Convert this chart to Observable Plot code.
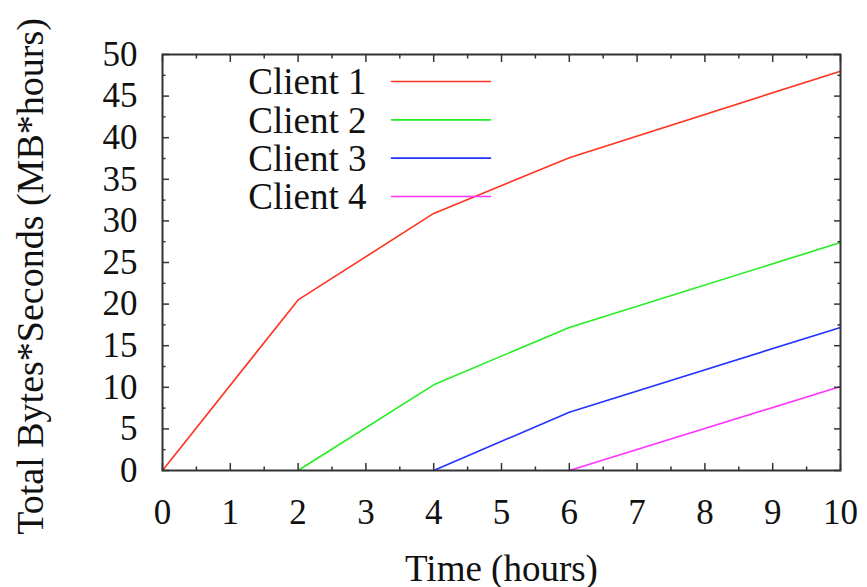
<!DOCTYPE html>
<html>
<head>
<meta charset="utf-8">
<script src="https://cdn.jsdelivr.net/npm/d3@7"></script>
<script src="https://cdn.jsdelivr.net/npm/@observablehq/plot@0.6"></script>
<style>
  html, body { margin: 0; padding: 0; background: #fff; }
  svg { display: block; }
</style>
</head>
<body>
<div id="chart"></div>
<script>
// Data
const seriesNames = ["Client 1", "Client 2", "Client 3", "Client 4"];
const seriesColors = ["#ff3322", "#22ee22", "#2233ff", "#ff33ff"];
const client1Time = [0, 2, 4, 6, 10];
const client1Value = [0, 20.5, 30.9, 37.6, 48.0];
const client2Time = [2, 4, 6, 10];
const client2Value = [0, 10.3, 17.2, 27.4];
const client3Time = [4, 6, 10];
const client3Value = [0, 7.0, 17.2];
const client4Time = [6, 10];
const client4Value = [0, 10.1];
const xTicks = [0, 1, 2, 3, 4, 5, 6, 7, 8, 9, 10];
const xMinorTicks = [0.5, 1.5, 2.5, 3.5, 4.5, 5.5, 6.5, 7.5, 8.5, 9.5];
const yTicks = [0, 5, 10, 15, 20, 25, 30, 35, 40, 45, 50];
const yMinorTicks = [2.5, 7.5, 12.5, 17.5, 22.5, 27.5, 32.5, 37.5, 42.5, 47.5];
const xLabel = "Time (hours)";
const yLabel = "Total Bytes*Seconds (MB*hours)";

const allTimes = [client1Time, client2Time, client3Time, client4Time];
const allValues = [client1Value, client2Value, client3Value, client4Value];
const rows = [];
seriesNames.forEach((name, s) => {
  allTimes[s].forEach((t, i) => rows.push({series: name, time: t, value: allValues[s][i]}));
});

const font = "'Liberation Serif', 'Times New Roman', Times, serif";
const axisColor = "#333";
const lineShape = {draw(context, l) { context.moveTo(0, 0); context.lineTo(0, -l); }};

const legendMarks = seriesNames.flatMap((name, i) => [
  Plot.text([name], {
    text: d => d, frameAnchor: "top-left", dx: 204, dy: 28 + i * 38.33,
    textAnchor: "end", lineAnchor: "middle", fontSize: 37, fill: "#111"
  }),
  Plot.vector([name], {
    frameAnchor: "top-left", dx: 229, dy: 27 + i * 38.33, rotate: 90, length: 99,
    anchor: "start", shape: lineShape, stroke: seriesColors[i], strokeWidth: 1.6
  })
]);

const chart = Plot.plot({
  width: 867,
  height: 587,
  marginLeft: 162,
  marginRight: 27,
  marginTop: 54,
  marginBottom: 117,
  style: {fontFamily: font, background: "#fff", color: "#111"},
  x: {domain: [0, 10], label: null},
  y: {domain: [0, 50], label: null},
  color: {domain: seriesNames, range: seriesColors},
  marks: [
    Plot.line(rows, {x: "time", y: "value", z: "series", stroke: "series", strokeWidth: 1.6}),
    // tick labels
    Plot.axisX({anchor: "bottom", ticks: xTicks, tickSize: 0, tickPadding: 29, fontSize: 35, label: null, tickFormat: d => String(d)}),
    Plot.axisY({anchor: "left", ticks: yTicks, tickSize: 0, tickPadding: 25, fontSize: 35, label: null, tickFormat: d => String(d)}),
    // inward tick marks on all four sides
    Plot.axisX({anchor: "bottom", ticks: xTicks, tickSize: -7, text: null, label: null, stroke: axisColor, strokeWidth: 1.5}),
    Plot.axisX({anchor: "bottom", ticks: xMinorTicks, tickSize: -3.5, text: null, label: null, stroke: axisColor, strokeWidth: 1.5}),
    Plot.axisX({anchor: "top", ticks: xTicks, tickSize: -7, text: null, label: null, stroke: axisColor, strokeWidth: 1.5}),
    Plot.axisX({anchor: "top", ticks: xMinorTicks, tickSize: -3.5, text: null, label: null, stroke: axisColor, strokeWidth: 1.5}),
    Plot.axisY({anchor: "left", ticks: yTicks, tickSize: -7, text: null, label: null, stroke: axisColor, strokeWidth: 1.5}),
    Plot.axisY({anchor: "left", ticks: yMinorTicks, tickSize: -3.5, text: null, label: null, stroke: axisColor, strokeWidth: 1.5}),
    Plot.axisY({anchor: "right", ticks: yTicks, tickSize: -7, text: null, label: null, stroke: axisColor, strokeWidth: 1.5}),
    Plot.axisY({anchor: "right", ticks: yMinorTicks, tickSize: -3.5, text: null, label: null, stroke: axisColor, strokeWidth: 1.5}),
    Plot.frame({stroke: axisColor, strokeWidth: 2}),
    // axis titles
    Plot.text([xLabel], {text: d => d, frameAnchor: "bottom", dy: 110, lineAnchor: "bottom", fontSize: 37, fill: "#111"}),
    Plot.text([yLabel], {text: d => d, frameAnchor: "left", dx: -120, dy: 14, rotate: -90, lineAnchor: "bottom", textAnchor: "middle", fontSize: 38, fill: "#111"}),
    ...legendMarks
  ]
});
document.getElementById("chart").appendChild(chart);
</script>
</body>
</html>
